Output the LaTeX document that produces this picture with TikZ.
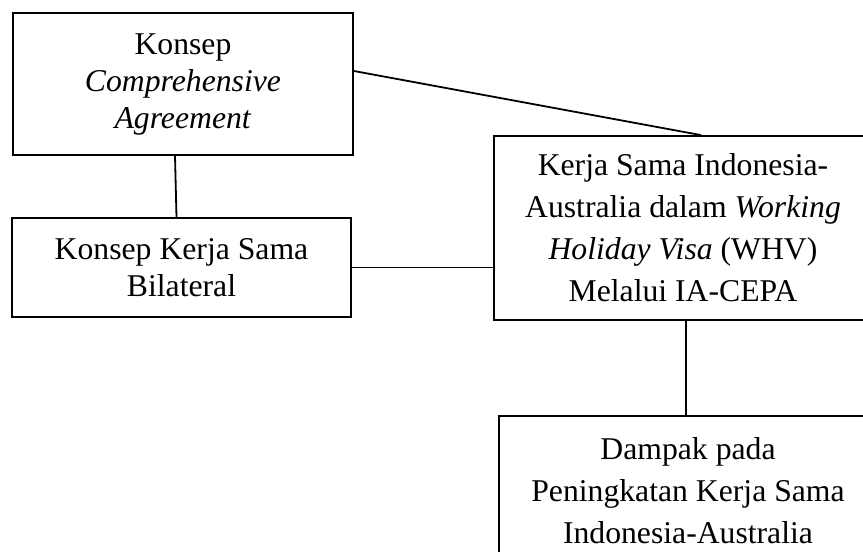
\documentclass[tikz,border=0pt]{standalone}
\usepackage{fontspec}
\setmainfont{Liberation Serif}
\begin{document}
\begin{tikzpicture}[x=1pt,y=-1pt,
  box/.style={draw, line width=1.8pt, align=center, inner sep=0pt},
  leftfont/.style={font=\fontsize{31.7}{37}\selectfont},
  rightfont/.style={font=\fontsize{31.7}{42}\selectfont},
  link/.style={line width=1.8pt}]
\useasboundingbox (0,0) rectangle (863,552);
\clip (0,0) rectangle (863,552);
\fill[white] (0,0) rectangle (863,552);
\node[box, leftfont, minimum width=340pt, minimum height=142pt] (a) at (183,84)
  {Konsep\\\textit{Comprehensive}\\\textit{Agreement}};
\node[box, leftfont, minimum width=339pt, minimum height=99pt] (b) at (181.5,267.5)
  {Konsep Kerja Sama\\Bilateral};
\node[box, rightfont, minimum width=378pt, minimum height=184pt] (c) at (683,228)
  {Kerja Sama Indonesia-\\Australia dalam \textit{Working}\\\textit{Holiday Visa} (WHV)\\Melalui IA-CEPA};
\node[box, rightfont, minimum width=378pt, minimum height=150pt] (d) at (688,491)
  {Dampak pada\\Peningkatan Kerja Sama\\Indonesia-Australia};
\draw[link] ([yshift=13pt]a.east) -- ([xshift=18pt]c.north);
\draw[link] ([xshift=-8pt]a.south) -- ([xshift=-5pt]b.north);
\draw[link] (b.east) -- (b.east -| c.west);
\draw[link] ([xshift=3pt]c.south) -- ([xshift=3pt]c.south |- d.north);
\end{tikzpicture}
\end{document}
